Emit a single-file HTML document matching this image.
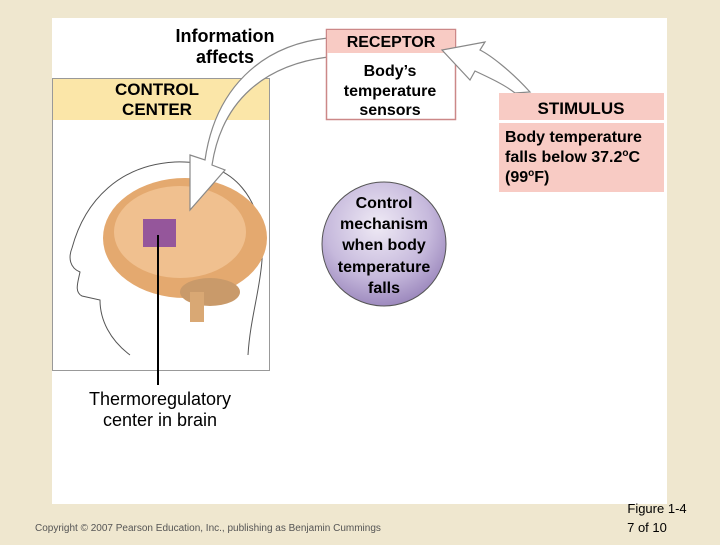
<!DOCTYPE html>
<html><head><style>
body{margin:0;width:720px;height:540px;background:#efe7cf;overflow:hidden;font-family:"Liberation Sans",Arial,sans-serif}
</style></head><body>
<svg width="720" height="540" viewBox="0 0 720 540" xmlns="http://www.w3.org/2000/svg" font-family="Liberation Sans, Arial, sans-serif" font-weight="bold">
<rect x="52" y="18" width="615" height="486" fill="#fff"/>
<rect x="52.5" y="78.5" width="217" height="292" fill="#fff" stroke="#999" stroke-width="1"/>
<rect x="53" y="79" width="216" height="41" fill="#fbe6a8"/>
<text x="157" y="95" font-size="17" text-anchor="middle" fill="#000">CONTROL</text>
<text x="157" y="115" font-size="17" text-anchor="middle">CENTER</text>
<text x="225" y="42" font-size="18" text-anchor="middle">Information</text>
<text x="225" y="63" font-size="18" text-anchor="middle">affects</text>
<!-- head outline -->
<path d="M130 355 C110 340 100 320 100 300 L82 296 C74 292 78 282 80 272 C70 268 68 258 72 248 C85 200 120 165 175 162 C235 160 265 200 262 260 C260 290 250 320 248 355" fill="none" stroke="#555" stroke-width="1"/>
<!-- brain -->
<ellipse cx="185" cy="238" rx="82" ry="60" fill="#e4a96f"/>
<ellipse cx="180" cy="232" rx="66" ry="46" fill="#f0c08f"/>
<ellipse cx="210" cy="292" rx="30" ry="14" fill="#c99a6a"/>
<rect x="190" y="292" width="14" height="30" fill="#d9a874"/>
<rect x="143" y="219" width="33" height="28" fill="#8b4a9c" opacity="0.9"/>
<line x1="158" y1="235" x2="158" y2="385" stroke="#000" stroke-width="2"/>
<!-- curved arrow -->
<path d="M328 38 C260 45 215 90 205 160 L190 155 L190 210 L225 170 L212 165 C222 100 265 65 328 57 Z" fill="#fff" stroke="#888" stroke-width="1.2"/>
<rect x="326.5" y="29.5" width="129" height="90" fill="#fff" stroke="#c88" stroke-width="1.5"/>
<rect x="327" y="30" width="128" height="23" fill="#f8cbc4"/>
<text x="391" y="47" font-size="16" text-anchor="middle">RECEPTOR</text>
<text x="390" y="76" font-size="16" text-anchor="middle">Body’s</text>
<text x="390" y="96" font-size="16" text-anchor="middle">temperature</text>
<text x="390" y="115" font-size="16" text-anchor="middle">sensors</text>
<path d="M530 92 C510 70 490 55 480 50 L485 42 L442 50 L470 80 L475 71 C490 78 505 85 515 93 Z" fill="#fff" stroke="#888" stroke-width="1.2"/>
<rect x="499" y="93" width="165" height="27" fill="#f8cbc4"/>
<text x="581" y="114" font-size="17" text-anchor="middle">STIMULUS</text>
<rect x="499" y="123" width="165" height="69" fill="#f8cbc4"/>
<text x="505" y="142" font-size="16">Body temperature</text>
<text x="505" y="162" font-size="16">falls below 37.2<tspan font-size="10" dy="-6">o</tspan><tspan dy="6">C</tspan></text>
<text x="505" y="182" font-size="16">(99<tspan font-size="10" dy="-6">o</tspan><tspan dy="6">F)</tspan></text>
<defs><radialGradient id="g" cx="0.45" cy="0.35" r="0.7"><stop offset="0" stop-color="#efeaf5"/><stop offset="0.6" stop-color="#c6b9dc"/><stop offset="1" stop-color="#9580b8"/></radialGradient></defs>
<circle cx="384" cy="244" r="62" fill="url(#g)" stroke="#555" stroke-width="1"/>
<text x="384" y="208" font-size="16" text-anchor="middle">Control</text>
<text x="384" y="229" font-size="16" text-anchor="middle">mechanism</text>
<text x="384" y="250" font-size="16" text-anchor="middle">when body</text>
<text x="384" y="272" font-size="16" text-anchor="middle">temperature</text>
<text x="384" y="293" font-size="16" text-anchor="middle">falls</text>
<text x="160" y="405" font-size="18" text-anchor="middle" font-weight="normal">Thermoregulatory</text>
<text x="160" y="426" font-size="18" text-anchor="middle" font-weight="normal">center in brain</text>
<text x="35" y="531" font-size="10" font-weight="normal" fill="#555">Copyright © 2007 Pearson Education, Inc., publishing as Benjamin Cummings</text>
<text x="657" y="513" font-size="13" text-anchor="middle" font-weight="normal">Figure 1-4</text>
<text x="647" y="532" font-size="13" text-anchor="middle" font-weight="normal">7 of 10</text>
</svg>
</body></html>
